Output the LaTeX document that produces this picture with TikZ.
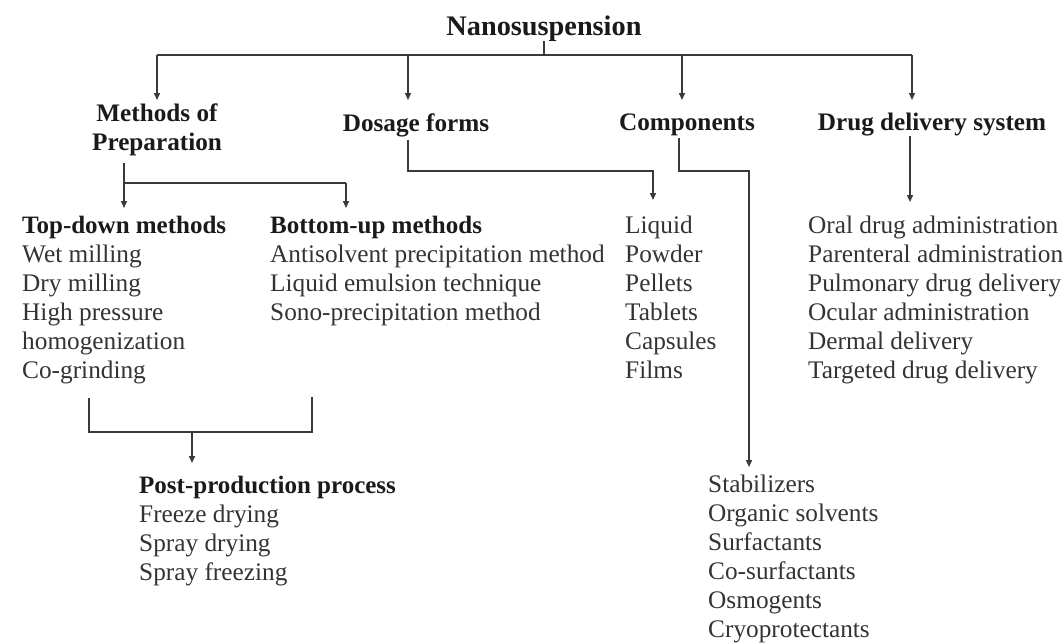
\documentclass[tikz,border=0pt]{standalone}
\usepackage{fontspec}
\setmainfont{Liberation Serif}
\usetikzlibrary{arrows.meta}
\definecolor{ink}{HTML}{1A1A1A}
\definecolor{itemink}{HTML}{333333}
\definecolor{lineink}{HTML}{3A3A3A}
\tikzset{
  ln/.style={draw=lineink, line width=1.5pt},
  arr/.style={ln, -{Triangle[width=6pt,length=7pt]}},
  hdr/.style={inner sep=0pt, text=ink, font=\fontsize{25.2}{29}\selectfont\bfseries},
  itm/.style={inner sep=0pt, anchor=base west, text=itemink, font=\fontsize{25.3}{29}\selectfont},
  itmb/.style={itm, text=ink, font=\fontsize{25}{29}\selectfont\bfseries},
}
\begin{document}
\begin{tikzpicture}[x=1pt,y=-1pt]
\useasboundingbox (0,0) rectangle (1064,643);
% title
\node[hdr, anchor=base, font=\fontsize{28.3}{32}\selectfont\bfseries] (nano) at (544,35) {Nanosuspension};
% level-1 headers
\node[hdr, anchor=base] (meth1) at (157,121) {Methods of};
\node[hdr, anchor=base] (meth2) at (157,150) {Preparation};
\node[hdr, anchor=base] (dos) at (416,131) {Dosage forms};
\node[hdr, anchor=base] (comp) at (687,130) {Components};
\node[hdr, anchor=base] (dds) at (932,130) {Drug delivery system};
% top connectors
\coordinate (hub) at (544,55);
\coordinate (hl) at (157,55);
\coordinate (hr) at (912,55);
\coordinate (t1) at (157,100);
\coordinate (t2) at (408,100);
\coordinate (t3) at (682,100);
\coordinate (t4) at (912,100);
\draw[ln] (nano.south) -- (hub);
\draw[ln] (hl) -- (hr);
\draw[arr] (hl) -- (t1);
\draw[arr] (t2 |- hub) -- (t2);
\draw[arr] (t3 |- hub) -- (t3);
\draw[arr] (hr) -- (t4);
% methods split
\coordinate (m0) at (124,163);
\coordinate (m1) at (124,183);
\coordinate (m2) at (346,183);
\coordinate (m3) at (124,208);
\coordinate (m4) at (346,208);
\draw[ln] (m0) -- (m1) -- (m2);
\draw[arr] (m1) -- (m3);
\draw[arr] (m2) -- (m4);
% top-down
\node[itmb] (td0) at (22,233) {Top-down methods};
\node[itm] (td1) at (22,262) {Wet milling};
\node[itm] (td2) at (22,291) {Dry milling};
\node[itm] (td3) at (22,320) {High pressure};
\node[itm] (td4) at (22,349) {homogenization};
\node[itm] (td5) at (22,378) {Co-grinding};
% bottom-up
\node[itmb] (bu0) at (270,233) {Bottom-up methods};
\node[itm] (bu1) at (270,262) {Antisolvent precipitation method};
\node[itm] (bu2) at (270,291) {Liquid emulsion technique};
\node[itm] (bu3) at (270,320) {Sono-precipitation method};
% bracket to post-production
\coordinate (b0) at (89,398);
\coordinate (b1) at (89,432);
\coordinate (b2) at (312,432);
\coordinate (b3) at (312,397);
\coordinate (bm) at (192,432);
\coordinate (b4) at (192,463);
\draw[ln] (b0) -- (b1) -- (b2) -- (b3);
\draw[arr] (bm) -- (b4);
\node[itmb] (pp0) at (139,493) {Post-production process};
\node[itm] (pp1) at (139,522) {Freeze drying};
\node[itm] (pp2) at (139,551) {Spray drying};
\node[itm] (pp3) at (139,580) {Spray freezing};
% dosage forms
\coordinate (d0) at (408,140);
\coordinate (d1) at (408,171);
\coordinate (d2) at (653,171);
\coordinate (d3) at (653,200);
\draw[arr] (d0) -- (d1) -- (d2) -- (d3);
\node[itm] (df1) at (625,233) {Liquid};
\node[itm] (df2) at (625,262) {Powder};
\node[itm] (df3) at (625,291) {Pellets};
\node[itm] (df4) at (625,320) {Tablets};
\node[itm] (df5) at (625,349) {Capsules};
\node[itm] (df6) at (625,378) {Films};
% components
\coordinate (c0) at (679,138);
\coordinate (c1) at (679,171);
\coordinate (c2) at (749,171);
\coordinate (c3) at (749,467);
\draw[arr] (c0) -- (c1) -- (c2) -- (c3);
\node[itm] (cp1) at (708,492) {Stabilizers};
\node[itm] (cp2) at (708,521) {Organic solvents};
\node[itm] (cp3) at (708,550) {Surfactants};
\node[itm] (cp4) at (708,579) {Co-surfactants};
\node[itm] (cp5) at (708,608) {Osmogents};
\node[itm] (cp6) at (708,637) {Cryoprotectants};
% drug delivery
\coordinate (g0) at (910,136);
\coordinate (g1) at (910,202);
\draw[arr] (g0) -- (g1);
\node[itm] (dd1) at (808,233) {Oral drug administration};
\node[itm] (dd2) at (808,262) {Parenteral administration};
\node[itm] (dd3) at (808,291) {Pulmonary drug delivery};
\node[itm] (dd4) at (808,320) {Ocular administration};
\node[itm] (dd5) at (808,349) {Dermal delivery};
\node[itm] (dd6) at (808,378) {Targeted drug delivery};
\end{tikzpicture}
\end{document}
